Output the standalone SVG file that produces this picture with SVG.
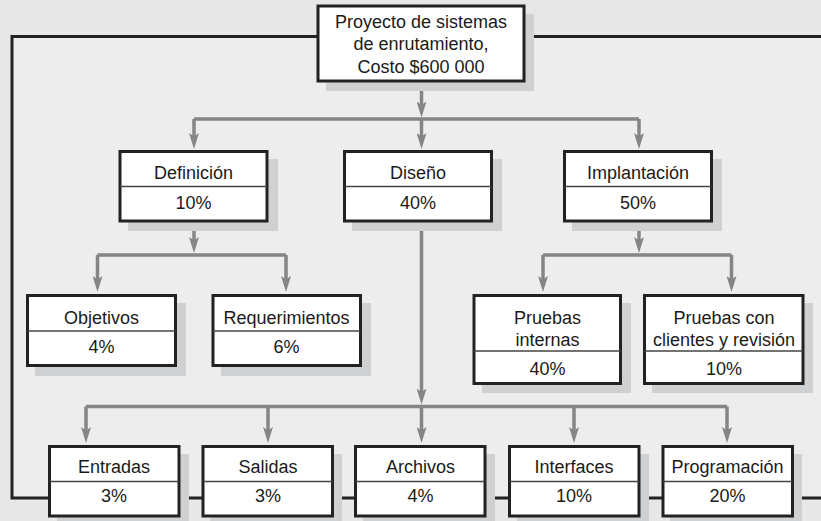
<svg xmlns="http://www.w3.org/2000/svg" width="821" height="521" viewBox="0 0 821 521">
  <style>
    .shadow { fill: #cfd0d2; }
    .box { fill: #ffffff; stroke: #222222; stroke-width: 3; }
    .div { stroke: #444444; stroke-width: 1.5; }
    .lbl { font-family: "Liberation Sans", Arial, sans-serif; font-size: 18px; fill: #1a1a1a; text-anchor: middle; }
    .conn { fill: none; stroke: #858585; stroke-width: 3.5; }
    .arr { marker-end: url(#ah); }
    .frame { fill: none; stroke: #222222; stroke-width: 3; }
  </style>
  <defs>
    <marker id="ah" viewBox="0 0 16 10" refX="4" refY="5" markerWidth="16" markerHeight="10" markerUnits="userSpaceOnUse" orient="auto">
      <path d="M0,0 L16,5 L0,10 L3.5,5 Z" fill="#858585"/>
    </marker>
  </defs>

  <rect x="0" y="0" width="821" height="521" fill="#e7e7e7"/>
  <rect x="12" y="36.5" width="809" height="461.5" fill="#ededed"/>
  <path class="frame" d="M317,36.5 H12 V498 H821 M525,36.5 H821"/>

  <g id="connectors">
    <path class="conn arr" d="M421.5,82 V105.5"/>
    <path class="conn" d="M194,119 H639"/>
    <path class="conn arr" d="M194,119 V137"/>
    <path class="conn arr" d="M421.5,119 V137"/>
    <path class="conn arr" d="M639,119 V137"/>

    <path class="conn arr" d="M194,222 V241"/>
    <path class="conn" d="M97.5,255 H286"/>
    <path class="conn arr" d="M97.5,255 V280"/>
    <path class="conn arr" d="M286,255 V280"/>

    <path class="conn arr" d="M639,222 V241"/>
    <path class="conn" d="M543,255 H731.5"/>
    <path class="conn arr" d="M543,255 V280"/>
    <path class="conn arr" d="M731.5,255 V280"/>

    <path class="conn arr" d="M421.5,222 V392.5"/>
    <path class="conn" d="M86,406.5 H727"/>
    <path class="conn arr" d="M86,406.5 V431"/>
    <path class="conn arr" d="M268,406.5 V431"/>
    <path class="conn arr" d="M421.5,406.5 V431"/>
    <path class="conn arr" d="M574,406.5 V431"/>
    <path class="conn arr" d="M727,406.5 V431"/>
  </g>

  <g id="n-proyecto">
    <rect class="shadow" x="326" y="14" width="208" height="77"/>
    <rect class="box" x="318" y="6" width="206" height="75"/>
    <text class="lbl" x="421" y="27.5">Proyecto de sistemas</text>
    <text class="lbl" x="421" y="50">de enrutamiento,</text>
    <text class="lbl" x="421" y="72.5">Costo $600 000</text>
  </g>

  <g id="n-definicion">
    <rect class="shadow" x="128" y="159" width="150" height="72"/>
    <rect class="box" x="120" y="151.5" width="147" height="69.5"/>
    <line class="div" x1="120" y1="186.5" x2="267" y2="186.5"/>
    <text class="lbl" x="193.5" y="179">Definición</text>
    <text class="lbl" x="193.5" y="208.5">10%</text>
  </g>

  <g id="n-diseno">
    <rect class="shadow" x="352" y="159" width="150" height="72"/>
    <rect class="box" x="344.5" y="151.5" width="147" height="69.5"/>
    <line class="div" x1="344.5" y1="186.5" x2="491.5" y2="186.5"/>
    <text class="lbl" x="418" y="179">Diseño</text>
    <text class="lbl" x="418" y="208.5">40%</text>
  </g>

  <g id="n-implantacion">
    <rect class="shadow" x="572" y="159" width="150" height="72"/>
    <rect class="box" x="564.5" y="151.5" width="147" height="69.5"/>
    <line class="div" x1="564.5" y1="186.5" x2="711.5" y2="186.5"/>
    <text class="lbl" x="638" y="179">Implantación</text>
    <text class="lbl" x="638" y="208.5">50%</text>
  </g>

  <g id="n-objetivos">
    <rect class="shadow" x="35" y="303" width="151" height="73"/>
    <rect class="box" x="27.5" y="295.5" width="148" height="70"/>
    <line class="div" x1="27.5" y1="331" x2="175.5" y2="331"/>
    <text class="lbl" x="101.5" y="323.5">Objetivos</text>
    <text class="lbl" x="101.5" y="352.5">4%</text>
  </g>

  <g id="n-requerimientos">
    <rect class="shadow" x="221" y="303" width="150" height="73"/>
    <rect class="box" x="213" y="295.5" width="147.5" height="70"/>
    <line class="div" x1="213" y1="331" x2="360.5" y2="331"/>
    <text class="lbl" x="286.5" y="323.5">Requerimientos</text>
    <text class="lbl" x="286.5" y="352.5">6%</text>
  </g>

  <g id="n-pruebas-internas">
    <rect class="shadow" x="482" y="303" width="149" height="90"/>
    <rect class="box" x="474" y="295.5" width="146.5" height="88"/>
    <line class="div" x1="474" y1="351" x2="620.5" y2="351"/>
    <text class="lbl" x="547.5" y="323.5">Pruebas</text>
    <text class="lbl" x="547.5" y="345.5">internas</text>
    <text class="lbl" x="547.5" y="374.5">40%</text>
  </g>

  <g id="n-pruebas-clientes">
    <rect class="shadow" x="652" y="303" width="161" height="90"/>
    <rect class="box" x="644.5" y="295.5" width="158.5" height="88"/>
    <line class="div" x1="644.5" y1="351" x2="803" y2="351"/>
    <text class="lbl" x="724" y="323.5">Pruebas con</text>
    <text class="lbl" x="724" y="345.5">clientes y revisión</text>
    <text class="lbl" x="724" y="374.5">10%</text>
  </g>

  <g id="n-entradas">
    <rect class="shadow" x="57" y="454" width="132" height="72"/>
    <rect class="box" x="49.5" y="446.5" width="129.5" height="69.5"/>
    <line class="div" x1="49.5" y1="481.5" x2="179" y2="481.5"/>
    <text class="lbl" x="114" y="472.5">Entradas</text>
    <text class="lbl" x="114" y="502">3%</text>
  </g>

  <g id="n-salidas">
    <rect class="shadow" x="210" y="454" width="132" height="72"/>
    <rect class="box" x="203" y="446.5" width="129.5" height="69.5"/>
    <line class="div" x1="203" y1="481.5" x2="332.5" y2="481.5"/>
    <text class="lbl" x="268" y="472.5">Salidas</text>
    <text class="lbl" x="268" y="502">3%</text>
  </g>

  <g id="n-archivos">
    <rect class="shadow" x="363" y="454" width="132" height="72"/>
    <rect class="box" x="355.5" y="446.5" width="129.5" height="69.5"/>
    <line class="div" x1="355.5" y1="481.5" x2="485" y2="481.5"/>
    <text class="lbl" x="420.5" y="472.5">Archivos</text>
    <text class="lbl" x="420.5" y="502">4%</text>
  </g>

  <g id="n-interfaces">
    <rect class="shadow" x="517" y="454" width="132" height="72"/>
    <rect class="box" x="509.5" y="446.5" width="129.5" height="69.5"/>
    <line class="div" x1="509.5" y1="481.5" x2="639" y2="481.5"/>
    <text class="lbl" x="574" y="472.5">Interfaces</text>
    <text class="lbl" x="574" y="502">10%</text>
  </g>

  <g id="n-programacion">
    <rect class="shadow" x="670" y="454" width="132" height="72"/>
    <rect class="box" x="663" y="446.5" width="129.5" height="69.5"/>
    <line class="div" x1="663" y1="481.5" x2="792.5" y2="481.5"/>
    <text class="lbl" x="727.5" y="472.5">Programación</text>
    <text class="lbl" x="727.5" y="502">20%</text>
  </g>
</svg>
